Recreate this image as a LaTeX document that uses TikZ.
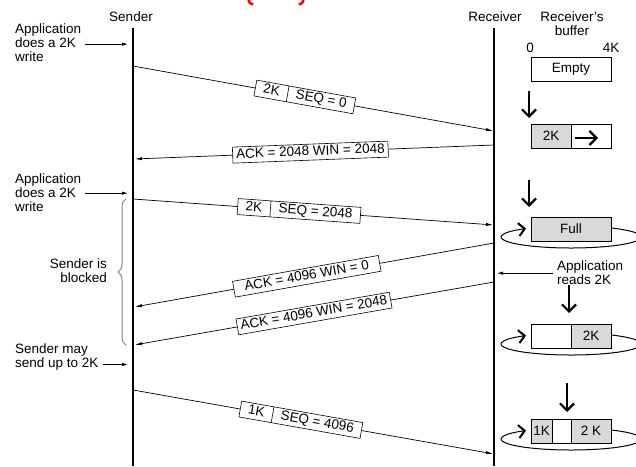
\documentclass[tikz,border=0pt]{standalone}
\usepackage{fontspec}
\setmainfont{Liberation Sans}
\usetikzlibrary{arrows.meta,positioning,shapes.multipart,decorations.pathreplacing}

\tikzset{
  lifeline/.style={line width=1.1pt},
  msgline/.style={line width=0.7pt,-{Latex[length=7pt,width=3.2pt]},shorten >=1pt},
  note/.style={align=left,inner sep=0pt,anchor=north west},
  noteline/.style={line width=0.8pt,-{Latex[length=6pt,width=3.4pt]}},
  seglabel/.style={draw,fill=white,line width=0.6pt,rectangle split,
    rectangle split horizontal,rectangle split parts=2,inner xsep=8pt,
    inner ysep=2pt,text height=9.5pt,text depth=2.5pt,sloped},
  acklabel/.style={draw,fill=white,line width=0.6pt,inner xsep=3.5pt,
    inner ysep=2pt,text height=9.5pt,text depth=2.5pt,sloped},
  bufpart/.style={draw,line width=0.9pt,minimum height=24pt,inner sep=0pt,outer sep=0pt},
  fullpart/.style={bufpart,fill=black!15},
  freepart/.style={bufpart,fill=white},
  bigarrow/.style={line width=2.2pt,-{Straight Barb[length=7pt,width=14pt]}},
  wrap/.style={line width=1pt,-{Straight Barb[length=6pt,width=13pt,line width=2pt]}},
}

\begin{document}
\begin{tikzpicture}[x=1pt,y=-1pt,font=\fontsize{13.5}{14}\selectfont]
\useasboundingbox (0,0) rectangle (636,466);
% cut-off caption marks
\draw[red,line width=2.5pt] (248.5,0) .. controls (249.5,3) .. (253,4.5);
\draw[red,line width=2.5pt] (303.5,0) .. controls (302.5,3) .. (299,4.5);

% heads
\node[inner sep=0pt] (sndhead) at (131,17) {Sender};
\node[inner sep=0pt] (rcvhead) at (495,17) {Receiver};
\node[inner sep=0pt,align=center] (bufhead) at (572,24) {Receiver's\\buffer};
\node[inner sep=0pt] (zero) at (530,48) {0};
\node[inner sep=0pt] (four) at (611,48) {4K};

% lifelines
\coordinate (stop) at (133,28);
\coordinate (sbot) at (133,466);
\coordinate (rtop) at (494,28);
\coordinate (rbot) at (494,466);
\draw[lifeline] (stop) -- (sbot);
\draw[lifeline] (rtop) -- (rbot);

% segments and acks
\coordinate (s1) at (133,66);  \coordinate (r1) at (494,131);
\coordinate (r2) at (494,145); \coordinate (s2) at (134,159);
\coordinate (s3) at (133,199); \coordinate (r3) at (494,225);
\coordinate (r4) at (494,243); \coordinate (s4) at (134,307);
\coordinate (r5) at (494,282); \coordinate (s5) at (134,345);
\coordinate (s6) at (133,390); \coordinate (r6) at (494,454);

\draw[msgline] (s1) -- node[seglabel,pos=0.476] (m1) {2K \nodepart{two} SEQ = 0} (r1);
\draw[msgline] (r2) -- node[acklabel,pos=0.51] (m2) {ACK = 2048 WIN = 2048} (s2);
\draw[msgline] (s3) -- node[seglabel,pos=0.46] (m3) {2K \nodepart{two} SEQ = 2048} (r3);
\draw[msgline] (r4) -- node[acklabel,pos=0.52,minimum width=148pt] (m4) {ACK = 4096 WIN = 0} (s4);
\draw[msgline] (r5) -- node[acklabel,pos=0.5] (m5) {ACK = 4096 WIN = 2048} (s5);
\draw[msgline] (s6) -- node[seglabel,pos=0.465] (m6) {1K \nodepart{two} SEQ = 4096} (r6);

% sender side notes
\node[note] (write1) at (15,24) {Application\\does a 2K\\write};
\coordinate (w1) at ([xshift=4pt,yshift=-1pt]write1.east);
\draw[noteline,shorten >=5pt] (w1) -- (w1 -| stop);
\node[note] (write2) at (15,174) {Application\\does a 2K\\write};
\coordinate (w2) at ([xshift=4pt]write2.east);
\draw[noteline,shorten >=5pt] (w2) -- (w2 -| stop);
\node[note] (maysend) at (15,344) {Sender may\\send up to 2K};
\coordinate (w3) at ([xshift=4pt,yshift=-7pt]maysend.east);
\draw[noteline,shorten >=5pt] (w3) -- (w3 -| stop);

\coordinate (btop) at (126,199);
\coordinate (bbot) at (126,345);
\draw[decorate,decoration={brace,amplitude=8pt},black!50,line width=1pt] (bbot) -- (btop);
\node[note,anchor=north east,align=right] (blocked) at (107,259) {Sender is\\blocked};

% receiver buffer
\node[freepart,minimum width=80pt] (buf1) at (571,69.5) {Empty};

\node[fullpart,minimum width=40pt,anchor=east] (buf2a) at (571,136) {2K};
\node[freepart,minimum width=40pt,right=0pt of buf2a] (buf2b) {};
\draw[bigarrow] ([xshift=4pt,yshift=-2pt]buf2b.west) -- ([xshift=-13pt,yshift=-2pt]buf2b.east);

\node[fullpart,minimum width=80pt] (buf3) at (571,229) {Full};

\node[freepart,minimum width=40pt,anchor=east] (buf4a) at (571,336) {};
\node[fullpart,minimum width=40pt,right=0pt of buf4a] (buf4b) {2K};

\node[fullpart,minimum width=21pt,anchor=east] (buf5a) at (552,431) {1K};
\node[freepart,minimum width=19pt,right=0pt of buf5a] (buf5b) {};
\node[fullpart,minimum width=40pt,right=0pt of buf5b] (buf5c) {2 K};

\foreach \b in {buf3,buf4b,buf5c}
  \draw[wrap] (\b.center -| buf3.center) ++(0,8) ++(-55:70 and 11)
    arc[start angle=-55,end angle=230,x radius=70,y radius=11];

\node[note] (reads) at (557,261) {Application\\reads 2K};
\coordinate (rd) at ([xshift=-4pt]reads.west);
\draw[noteline,shorten >=3pt] (rd) -- (rd -| rtop);

\draw[bigarrow,shorten <=9pt,shorten >=6pt] ([xshift=-2pt]buf1.south west) -- ([xshift=-2pt]buf2a.north west);
\draw[bigarrow,shorten <=32pt,shorten >=10pt] ([xshift=-2pt]buf2a.south west) -- ([xshift=-2pt]buf3.north west);
\coordinate (tip3) at ([xshift=-2pt]buf4b.north west);
\draw[bigarrow,shorten >=11pt] (reads.south -| tip3) -- (tip3);
\draw[bigarrow,shorten <=35pt,shorten >=7pt] ([xshift=-4pt]buf4b.south west) -- ([xshift=-4pt]buf5c.north west);
\end{tikzpicture}
\end{document}
